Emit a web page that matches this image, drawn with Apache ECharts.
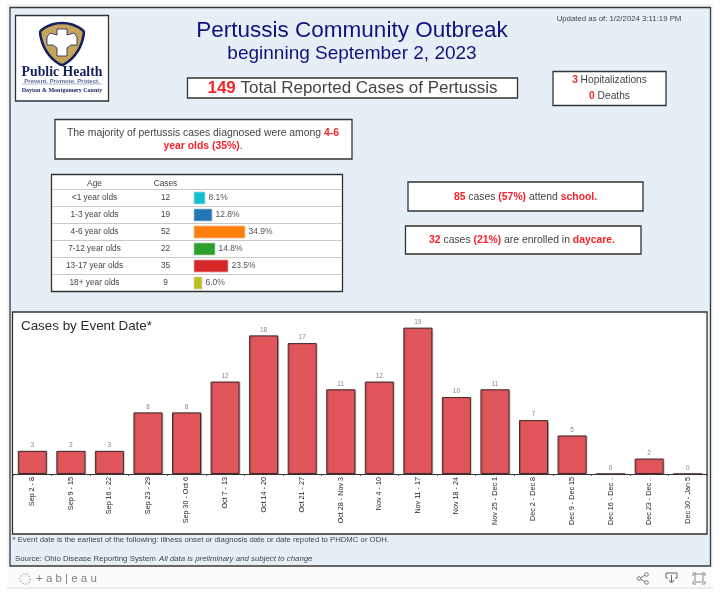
<!DOCTYPE html>
<html>
<head>
<meta charset="utf-8">
<style>html,body{margin:0;padding:0;background:#fff}#c{width:720px;height:597px}</style>
<script src="https://cdn.jsdelivr.net/npm/echarts@6/dist/echarts.min.js"></script>
</head>
<body>
<div id="c"></div>
<script>
const weeks = ['Sep 2 - 8','Sep 9 - 15','Sep 16 - 22','Sep 23 - 29','Sep 30 - Oct 6','Oct 7 - 13','Oct 14 - 20','Oct 21 - 27','Oct 28 - Nov 3','Nov 4 - 10','Nov 11 - 17','Nov 18 - 24','Nov 25 - Dec 1','Dec 2 - Dec 8','Dec 9 - Dec 15','Dec 16 - Dec ..','Dec 23 - Dec ..','Dec 30 - Jan 5'];
const weekCases = [3,3,3,8,8,12,18,17,11,12,19,10,11,7,5,0,2,0];
const ages = ['<1 year olds','1-3 year olds','4-6 year olds','7-12 year olds','13-17 year olds','18+ year olds'];
const ageCases = [12,19,52,22,35,9];
const agePct = ['8.1%','12.8%','34.9%','14.8%','23.5%','6.0%'];
const ageColors = ['#17becf','#1f77b4','#ff7f0e','#2ca02c','#d62728','#bcbd22'];

const F = '"Liberation Sans", Arial, sans-serif';
const RED = '#f5232b', GREY = '#444', NAVY = '#12127e';
const box = (x,y,w,h,z) => ({type:'rect',z:z||1,shape:{x,y,width:w,height:h},style:{fill:'#fff',stroke:'#333',lineWidth:1.3}});
const richSize = s => ({r:{fill:RED,fontWeight:'bold',fontSize:s,fontFamily:F},g:{fill:GREY,fontSize:s,fontFamily:F}});
const txt = (x,y,text,size,fill,extra) => ({type:'text',z:5,x,y,style:Object.assign({text,fontSize:size,fill,fontFamily:F,align:'center',verticalAlign:'middle'},extra||{})});
const pl = (pts,stroke,w) => ({type:'polyline',z:5,shape:{points:pts},style:{fill:'none',stroke,lineWidth:w||1}});

const graphics = [
  {type:'rect',z:0,shape:{x:7,y:4,width:706,height:566},style:{fill:'#eef4f8'}},
  {type:'rect',z:0,shape:{x:7,y:567,width:706,height:21},style:{fill:'#fbfbfb'}},
  {type:'line',z:0,shape:{x1:7,y1:588,x2:713,y2:588},style:{stroke:'#dcdcdc',lineWidth:1}},
  {type:'rect',z:0,shape:{x:10,y:7.5,width:700.5,height:558.5},style:{fill:'#e6eff5',stroke:'#3a3a3a',lineWidth:1.3}},
  box(15.5,15.5,93,85.5),
  box(187.5,78,330,20),
  box(553,71.5,113,34),
  box(55,119.5,297,39.5),
  box(408,182,235,29),
  box(405.5,226,235.5,28),
  box(51.5,174.5,291,117),
  box(12.5,312,694.5,222),
  // logo
  {type:'polygon',z:3,shape:{smooth:0.25,points:[[62,23],[52,24.5],[40.5,31],[41,38],[44,47],[49,55],[55,61],[62,65],[69,61],[75,55],[80,47],[83,38],[83.5,31],[72,24.5]]},style:{fill:'#c6a45c',stroke:'#14215e',lineWidth:2.6}},
  {type:'polygon',z:4,shape:{points:[[57,29],[67,29],[67,35],[74,33],[77,37],[77,45],[71,45],[67,48],[67,56],[57,56],[57,48],[53,45],[47,45],[47,37],[50,33],[57,35]]},style:{fill:'#fff',stroke:'#14215e',lineWidth:0.8}},
  txt(62,72.5,'Public Health',13.8,'#14215e',{fontFamily:'"Liberation Serif", serif',fontWeight:'bold'}),
  txt(62,81,'Prevent. Promote. Protect.',6,'#5a6a94',{fontWeight:'bold'}),
  {type:'line',z:4,shape:{x1:22,y1:84,x2:102,y2:84},style:{stroke:'#8d97b5',lineWidth:0.7}},
  txt(62,90,'Dayton & Montgomery County',6,'#14215e',{fontFamily:'"Liberation Serif", serif',fontWeight:'bold'}),
  // titles
  txt(352,31,'Pertussis Community Outbreak',22.5,NAVY),
  txt(352,54,'beginning September 2, 2023',19,NAVY),
  txt(619,19,'Updated as of: 1/2/2024 3:11:19 PM',7.8,'#444'),
  txt(352.5,88.5,'{r|149} {g|Total Reported Cases of Pertussis}',17,GREY,{rich:richSize(17)}),
  txt(609.5,80,'{r|3} {g|Hopitalizations}',10.2,GREY,{rich:richSize(10.2)}),
  txt(609.5,96.5,'{r|0} {g|Deaths}',10.2,GREY,{rich:richSize(10.2)}),
  txt(203,133,'{g|The majority of pertussis cases diagnosed were among }{r|4-6}',10.4,GREY,{rich:richSize(10.4)}),
  txt(203,146.5,'{r|year olds (35%)}{g|.}',10.4,GREY,{rich:richSize(10.4)}),
  txt(525.5,197,'{r|85} {g|cases} {r|(57%)} {g|attend} {r|school.}',10.4,GREY,{rich:richSize(10.4)}),
  txt(522,240.5,'{r|32} {g|cases} {r|(21%)} {g|are enrolled in} {r|daycare.}',10.4,GREY,{rich:richSize(10.4)}),
  // age table header
  txt(94.5,184,'Age',8.3,'#444'),
  txt(165.5,184,'Cases',8.3,'#444'),
  // chart title and notes
  txt(21,326,'Cases by Event Date*',13.4,'#2b2b2b',{align:'left'}),
  txt(12.5,540,'* Event date is the earliest of the following: illness onset or diagnosis date or date repoted to PHDMC or ODH.',7.75,'#444',{align:'left'}),
  txt(15,559,'Source: Ohio Disease Reporting System',7.85,'#444',{align:'left'}),
  txt(159,559,'All data is preliminary and subject to change',7.85,'#444',{align:'left',fontStyle:'italic'}),
  // footer
  txt(36,579,'+ a b | e a u',11.5,'#7b8287',{align:'left'}),
  {type:'circle',z:5,shape:{cx:25,cy:579,r:5},style:{fill:'none',stroke:'#b5babd',lineWidth:1.5,lineDash:[1.5,1.5]}},
  {type:'circle',z:5,shape:{cx:639,cy:578.5,r:1.8},style:{fill:'none',stroke:'#777'}},
  {type:'circle',z:5,shape:{cx:646.5,cy:574.5,r:1.8},style:{fill:'none',stroke:'#777'}},
  {type:'circle',z:5,shape:{cx:646.5,cy:582.5,r:1.8},style:{fill:'none',stroke:'#777'}},
  pl([[641,577.5],[645,575.3]],'#777'), pl([[641,579.5],[645,581.7]],'#777'),
  pl([[668,578],[666,578],[666,573],[677,573],[677,578],[675,578]],'#666'),
  pl([[671.5,575],[671.5,582]],'#666'), pl([[669,580],[671.5,583],[674,580]],'#666'),
  pl([[695,574],[703,574],[703,582],[695,582],[695,574]],'#888'),
  pl([[693,576],[693,573],[696,573]],'#888'), pl([[702,573],[705,573],[705,576]],'#888'),
  pl([[705,581],[705,584],[702,584]],'#888'), pl([[696,584],[693,584],[693,581]],'#888')
];
ages.forEach((a,i) => {
  const y = 189.5 + i*17;
  graphics.push({type:'line',z:2,shape:{x1:52,y1:y,x2:342,y2:y},style:{stroke:'#c9c9c9',lineWidth:1}});
});

const option = {
  animation:false,
  backgroundColor:'#fff',
  textStyle:{fontFamily:F},
  graphic:{elements:graphics},
  grid:[
    {left:13,top:320,width:694,height:154,containLabel:false},
    {left:193.5,top:189.5,width:149,height:102,containLabel:false}
  ],
  xAxis:[
    {type:'category',gridIndex:0,data:weeks,z:8,
      axisLine:{lineStyle:{color:'#333',width:1}},
      axisTick:{show:true,length:2,lineStyle:{color:'#555'},alignWithLabel:false},
      axisLabel:{rotate:90,fontSize:7.2,color:'#222',margin:3,interval:0,fontFamily:F,hideOverlap:false}},
    {type:'value',gridIndex:1,min:0,max:149,axisLine:{show:false},axisTick:{show:false},axisLabel:{show:false},splitLine:{show:false}}
  ],
  yAxis:[
    {type:'value',gridIndex:0,min:0,max:20,show:false},
    {type:'category',gridIndex:1,inverse:true,data:ages,z:8,axisLine:{show:false},axisTick:{show:false},
      axisLabel:{align:'center',margin:99,fontSize:8.3,color:'#444',interval:0,fontFamily:F}},
    {type:'category',gridIndex:1,inverse:true,position:'left',offset:0,z:8,data:ageCases.map(String),axisLine:{show:false},axisTick:{show:false},
      axisLabel:{align:'center',margin:28,fontSize:8.3,color:'#444',interval:0,fontFamily:F}}
  ],
  series:[
    {type:'bar',xAxisIndex:0,yAxisIndex:0,data:weekCases,barWidth:29,z:6,
      itemStyle:{color:'#e0565b',borderColor:'#4a2c2e',borderWidth:1,shadowColor:'rgba(0,0,0,0.25)',shadowBlur:1,shadowOffsetX:1},
      label:{show:true,position:'top',distance:2,fontSize:6.5,color:'#888',fontFamily:F}},
    {type:'bar',xAxisIndex:1,yAxisIndex:1,barWidth:13,z:6,
      data:ageCases.map((v,i)=>({value:v,itemStyle:{color:ageColors[i],borderColor:'#e8e8e8',borderWidth:0.7},
        label:{formatter:agePct[i]}})),
      label:{show:true,position:'right',distance:3,fontSize:8.5,color:'#555',fontFamily:F}}
  ]
};
echarts.init(document.getElementById('c'),null,{renderer:'canvas'}).setOption(option);
</script>
</body>
</html>
